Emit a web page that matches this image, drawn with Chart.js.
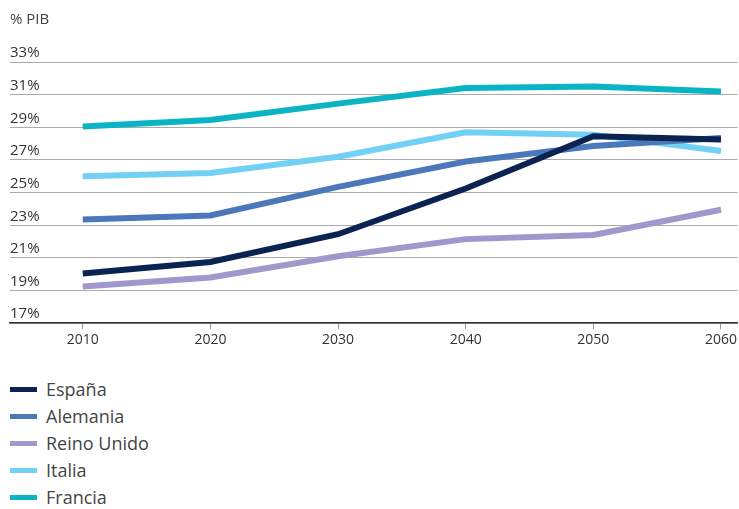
<!DOCTYPE html>
<html>
<head>
<meta charset="utf-8">
<script src="https://cdn.jsdelivr.net/npm/chart.js@4/dist/chart.umd.min.js"></script>
<style>
  html, body { margin: 0; padding: 0; background: #fff; }
  #wrap { position: relative; width: 739px; height: 509px; }
  #legend { position: absolute; left: 10px; top: 376px; font-family: "Open Sans", sans-serif; font-size: 18px; color: #444; }
  #legend div { height: 27px; line-height: 27px; display: flex; align-items: center; }
  #legend span.sw { display: inline-block; width: 27px; height: 5px; margin-right: 9px; }
</style>
</head>
<body>
<div id="wrap">
  <canvas id="chart_pib" width="739" height="350" style="width:739px;height:350px"></canvas>
  <div id="legend"></div>
</div>
<script>
var years = [2010, 2020, 2030, 2040, 2050, 2060];
var yTicks = [17, 19, 21, 23, 25, 27, 29, 31, 33];

var espana = [20.05, 20.75, 22.45, 25.25, 28.45, 28.25];
var alemania = [23.35, 23.6, 25.35, 26.9, 27.85, 28.35];
var reinoUnido = [19.25, 19.8, 21.1, 22.15, 22.4, 23.95];
var italia = [26.0, 26.2, 27.2, 28.7, 28.55, 27.55];
var francia = [29.05, 29.45, 30.45, 31.4, 31.5, 31.2];

var series = [
    { label: 'España', data: espana, color: '#0b2350' },
    { label: 'Alemania', data: alemania, color: '#4a78bb' },
    { label: 'Reino Unido', data: reinoUnido, color: '#a097cc' },
    { label: 'Italia', data: italia, color: '#72d0f4' },
    { label: 'Francia', data: francia, color: '#0ab4c4' }
];

var font = '"Open Sans", sans-serif';

var chart = new Chart(document.getElementById('chart_pib'), {
    type: 'line',
    data: {
        datasets: series.map(s => ({
            label: s.label,
            data: s.data.map((v, i) => ({ x: years[i], y: v })),
            borderColor: s.color,
            backgroundColor: s.color,
            borderWidth: 6,
            pointRadius: 0,
            tension: 0,
            fill: false
        }))
    },
    options: {
        responsive: false,
        animation: false,
        layout: { padding: { left: 10, right: 0, top: 0, bottom: 0 } },
        plugins: {
            legend: { display: false },
            tooltip: { enabled: false },
            title: {
                display: true,
                text: '% PIB',
                align: 'start',
                color: '#444',
                font: { family: font, size: 15, weight: 'normal' },
                padding: { top: 11, bottom: 33 }
            }
        },
        scales: {
            x: {
                type: 'linear',
                min: 2004.3,
                max: 2061.3,
                afterBuildTicks: (axis) => { axis.ticks = years.map(v => ({ value: v })); },
                grid: { drawOnChartArea: false, color: '#999', tickLength: 6 },
                border: { color: '#333', width: 1.5 },
                ticks: {
                    color: '#333',
                    font: { family: font, size: 14 },
                    padding: 2,
                    callback: (v) => String(v)
                }
            },
            y: {
                min: 17,
                max: 33,
                afterBuildTicks: (axis) => { axis.ticks = yTicks.map(v => ({ value: v })); },
                grid: { color: '#aaa', lineWidth: 1, drawTicks: false },
                border: { display: false },
                ticks: {
                    mirror: true,
                    padding: 0,
                    labelOffset: -9,
                    color: '#333',
                    font: { family: font, size: 15 },
                    callback: (v) => v + '%'
                }
            }
        }
    }
});

var legend = document.getElementById('legend');
series.forEach(s => {
    var row = document.createElement('div');
    row.innerHTML = '<span class="sw" style="background:' + s.color + '"></span>' + s.label;
    legend.appendChild(row);
});
</script>
</body>
</html>
